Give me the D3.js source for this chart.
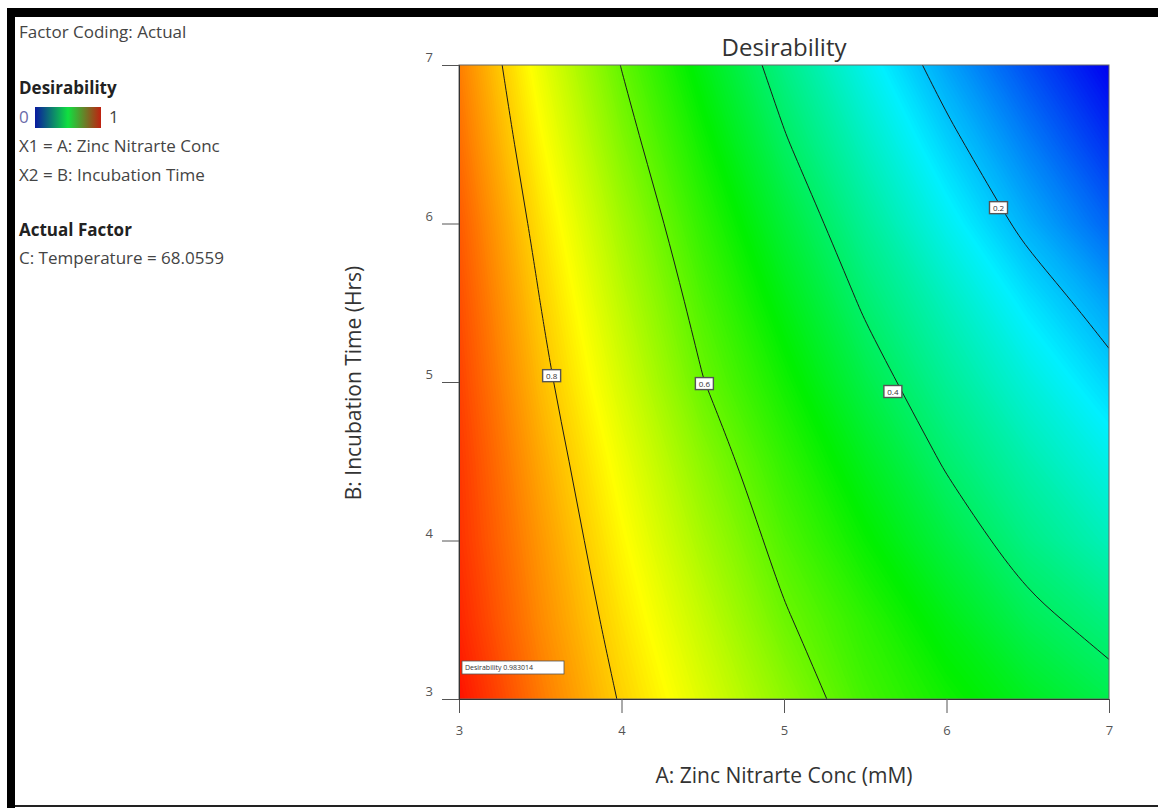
<!DOCTYPE html>
<html><head><meta charset="utf-8">
<script src="https://cdn.jsdelivr.net/npm/d3@7"></script>
<style>
body{margin:0;background:#fff;}
svg{display:block;font-family:"Open Sans",sans-serif;}
</style></head><body>
<svg id="chart" width="1158" height="808"></svg>
<script>
// Factor levels and tick values
const concTicks = [3, 4, 5, 6, 7];
const timeTicks = [3, 4, 5, 6, 7];
const gridConc = [3, 3.5, 4, 4.5, 5, 5.5, 6, 6.5, 7];
const gridTime = [3, 3.5, 4, 4.5, 5, 5.5, 6, 6.5, 7];
// Desirability over the grid, one row per incubation time (3 h first)
const desirability = [
  [0.983, 0.882, 0.795, 0.717, 0.639, 0.565, 0.515, 0.468, 0.425],
  [0.964, 0.865, 0.776, 0.692, 0.607, 0.543, 0.480, 0.418, 0.375],
  [0.952, 0.852, 0.756, 0.664, 0.578, 0.506, 0.435, 0.370, 0.318],
  [0.946, 0.836, 0.735, 0.636, 0.549, 0.470, 0.393, 0.330, 0.272],
  [0.936, 0.817, 0.710, 0.602, 0.516, 0.429, 0.354, 0.286, 0.222],
  [0.925, 0.800, 0.685, 0.576, 0.482, 0.391, 0.315, 0.238, 0.170],
  [0.912, 0.780, 0.659, 0.547, 0.446, 0.353, 0.266, 0.182, 0.105],
  [0.894, 0.756, 0.628, 0.515, 0.407, 0.312, 0.219, 0.133, 0.050],
  [0.877, 0.732, 0.598, 0.481, 0.370, 0.269, 0.171, 0.082, 0.000]
];
// Contour levels and where their labels sit (conc, time)
const contourLevels = [0.2, 0.4, 0.6, 0.8];
const labelConc = [6.32, 5.67, 4.51, 3.57];
const labelTime = [6.10, 4.94, 4.99, 5.04];
// Flagged point
const flagConc = 3, flagTime = 3, flagValue = 0.983014;

const svg = d3.select("#chart");
const x = d3.scaleLinear().domain([3, 7]).range([459, 1109]);
const y = d3.scaleLinear().domain([3, 7]).range([699, 65]);
const color = d3.scaleLinear()
  .domain([0, 0.25, 0.5, 0.75, 1])
  .range(["#0000f0", "#00f0ff", "#00f000", "#ffff00", "#ff0000"])
  .clamp(true);

// frame
svg.append("rect").attr("x", 7).attr("y", 8).attr("width", 1151).attr("height", 9).attr("fill", "#000");
svg.append("rect").attr("x", 7).attr("y", 8).attr("width", 8).attr("height", 800).attr("fill", "#000");
svg.append("rect").attr("x", 15).attr("y", 805).attr("width", 1143).attr("height", 2).attr("fill", "#222");

// legend block
const leg = svg.append("g").attr("fill", "#444").style("font-size", "17px");
leg.append("text").attr("x", 19).attr("y", 38).text("Factor Coding: Actual");
leg.append("text").attr("x", 19).attr("y", 94).attr("font-weight", "bold").attr("fill", "#222").text("Desirability");
const defs = svg.append("defs");
const lg = defs.append("linearGradient").attr("id", "legGrad");
[["0%", "#0a1aa0"], ["50%", "#10e040"], ["100%", "#c02010"]].forEach(([o, c]) =>
  lg.append("stop").attr("offset", o).attr("stop-color", c));
leg.append("rect").attr("x", 35).attr("y", 107).attr("width", 66).attr("height", 21).attr("fill", "url(#legGrad)");
leg.append("text").attr("x", 19).attr("y", 123).attr("fill", "#6a6aa8").text("0");
leg.append("text").attr("x", 109).attr("y", 123).text("1");
leg.append("text").attr("x", 19).attr("y", 152).text("X1 = A: Zinc Nitrarte Conc");
leg.append("text").attr("x", 19).attr("y", 181).text("X2 = B: Incubation Time");
leg.append("text").attr("x", 19).attr("y", 236).attr("font-weight", "bold").attr("fill", "#222").text("Actual Factor");
leg.append("text").attr("x", 19).attr("y", 264).text("C: Temperature = 68.0559");

// plot clip
defs.append("clipPath").attr("id", "plotClip").append("rect")
  .attr("x", x(3)).attr("y", y(7)).attr("width", x(7) - x(3)).attr("height", y(3) - y(7));

const n = gridConc.length, m = gridTime.length;
const values = desirability.flat();
const stepC = gridConc[1] - gridConc[0], stepT = gridTime[1] - gridTime[0];
// grid coordinate (cell centre at i + 0.5) -> screen
const toScreen = (u, v) => [x(gridConc[0] + (u - 0.5) * stepC), y(gridTime[0] + (v - 0.5) * stepT)];
const proj = d3.geoTransform({
  point(u, v) { const p = toScreen(u, v); this.stream.point(p[0], p[1]); }
});
const path = d3.geoPath(proj);

const field = svg.append("g").attr("clip-path", "url(#plotClip)");
const bands = d3.range(0, 1.0001, 0.004);
field.append("rect").attr("x", x(3)).attr("y", y(7)).attr("width", x(7) - x(3)).attr("height", y(3) - y(7)).attr("fill", color(0));
field.selectAll("path.band")
  .data(d3.contours().size([n, m]).thresholds(bands)(values))
  .join("path").attr("class", "band")
  .attr("d", path)
  .attr("fill", d => color(d.value + 0.002));

// contour lines: keep the part of each ring that lies over the data range,
// drop the rim segments, and draw what remains as a smooth open curve
const eps = 1e-9;
const inside = p => p[0] >= 0.5 - eps && p[0] <= n - 0.5 + eps && p[1] >= 0.5 - eps && p[1] <= m - 0.5 + eps;
function openRuns(ring) {
  const pts = ring.slice(0, -1);
  const k = pts.findIndex(p => !inside(p));
  if (k < 0) return [pts.concat([pts[0]])];
  const rot = pts.slice(k).concat(pts.slice(0, k));
  const runs = [];
  let cur = [];
  rot.forEach(p => {
    if (inside(p)) cur.push(p);
    else { if (cur.length > 1) runs.push(cur); cur = []; }
  });
  if (cur.length > 1) runs.push(cur);
  return runs;
}
const smooth = d3.line().curve(d3.curveBasis);
field.selectAll("path.iso")
  .data(d3.contours().size([n, m]).thresholds(contourLevels)(values))
  .join("path").attr("class", "iso")
  .attr("d", d => d.coordinates.flatMap(poly => poly.flatMap(openRuns))
      .map(run => smooth(run.map(p => toScreen(p[0], p[1])))).join(""))
  .attr("fill", "none").attr("stroke", "#1a1a1a").attr("stroke-width", 1);

// axes
svg.append("rect").attr("x", x(3)).attr("y", y(7)).attr("width", x(7) - x(3)).attr("height", y(3) - y(7))
  .attr("fill", "none").attr("stroke", "#666").attr("stroke-width", 1);
const xAxis = svg.append("g").attr("transform", `translate(0,${y(3)})`)
  .call(d3.axisBottom(x).tickValues(concTicks).tickSize(14).tickPadding(9).tickFormat(d3.format("d")));
const yAxis = svg.append("g").attr("transform", `translate(${x(3)},0)`)
  .call(d3.axisLeft(y).tickValues(timeTicks).tickSize(17).tickPadding(9).tickFormat(d3.format("d")));
[xAxis, yAxis].forEach(g => {
  g.select(".domain").attr("stroke", "#333");
  g.selectAll(".tick line").attr("stroke", "#555");
  g.selectAll(".tick text").attr("fill", "#555").style("font-size", "13px").style("font-family", "'Open Sans',sans-serif");
});
xAxis.selectAll(".tick text").attr("dy", "1em");
yAxis.selectAll(".tick text").attr("dy", "-0.25em");

// contour labels
const lab = svg.append("g");
contourLevels.forEach((lv, i) => {
  const cx = x(labelConc[i]), cy = y(labelTime[i]);
  lab.append("rect").attr("x", cx - 9).attr("y", cy - 6).attr("width", 18).attr("height", 12)
    .attr("fill", "#fff").attr("stroke", "#555").attr("stroke-width", 1.4);
  lab.append("text").attr("x", cx).attr("y", cy + 3).attr("text-anchor", "middle")
    .style("font-size", "8px").attr("fill", "#333").text(lv.toFixed(1));
});

// flagged point
const fx = x(flagConc), fy = y(flagTime);
lab.append("rect").attr("x", fx + 3).attr("y", fy - 38).attr("width", 102).attr("height", 13)
  .attr("fill", "#fff").attr("stroke", "#555").attr("stroke-width", 0.8);
lab.append("text").attr("x", fx + 6).attr("y", fy - 29).style("font-size", "7px").attr("fill", "#333")
  .text("Desirability  " + flagValue.toFixed(6));

// titles
svg.append("text").attr("x", 784).attr("y", 56).attr("text-anchor", "middle")
  .style("font-size", "24px").attr("fill", "#333").text("Desirability");
svg.append("text").attr("x", 784).attr("y", 783).attr("text-anchor", "middle")
  .style("font-size", "21px").attr("fill", "#333").text("A: Zinc Nitrarte Conc (mM)");
svg.append("text").attr("transform", "translate(361,383) rotate(-90)").attr("text-anchor", "middle")
  .style("font-size", "21px").attr("fill", "#333").text("B: Incubation Time (Hrs)");
</script>
</body></html>
